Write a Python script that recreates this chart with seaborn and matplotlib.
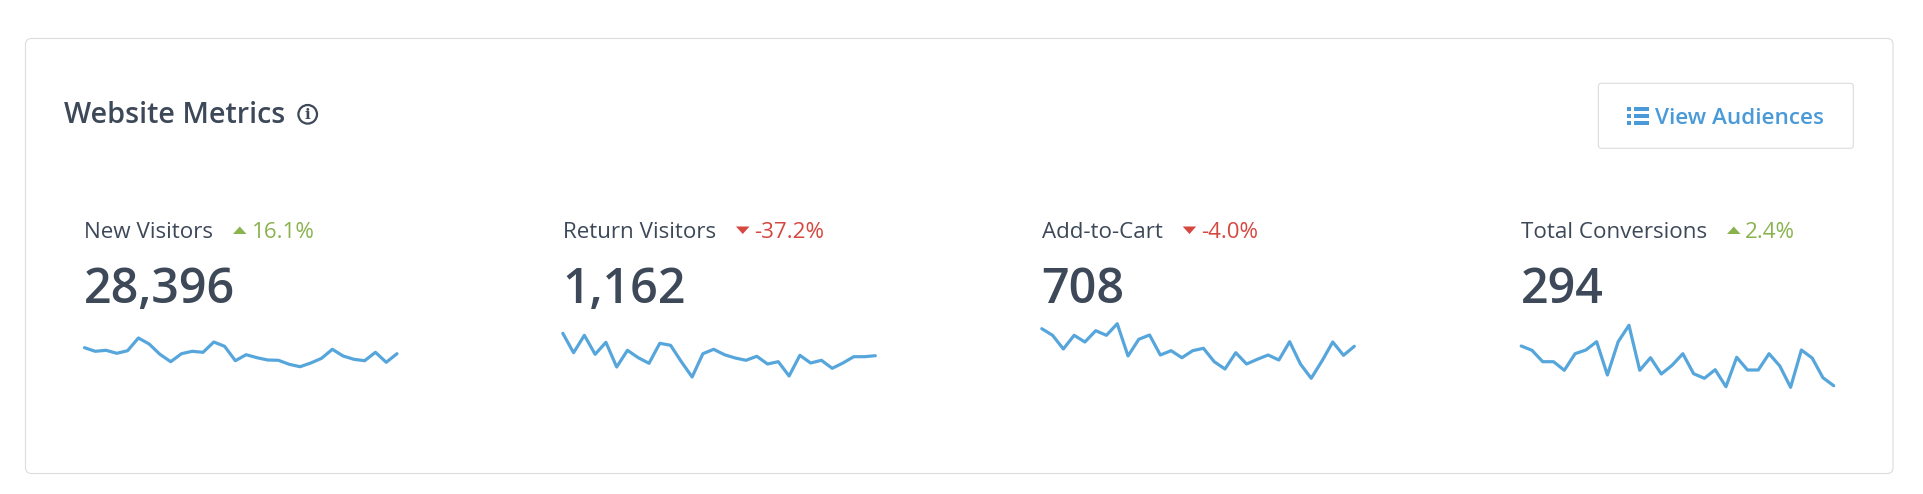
import numpy as np
import pandas as pd
import seaborn as sns
import matplotlib.pyplot as plt
from matplotlib.patches import FancyBboxPatch, Circle, Rectangle, Polygon

W, H = 1924, 494

metrics = ["New Visitors", "Return Visitors", "Add-to-Cart", "Total Conversions"]
totals = ["28,396", "1,162", "708", "294"]
changes = ["16.1%", "-37.2%", "-4.0%", "2.4%"]

new_visitors = [42.3, 38.7, 39.7, 36.7, 39.3, 52, 46, 35.7, 28.3, 36.3, 38.7, 37.7, 48, 43.7, 29.3,
                35.3, 32.3, 30, 29.7, 25.7, 23.3, 27, 31.7, 40.7, 34, 30.7, 29.3, 37.7, 27.7, 36.3]
return_visitors = [56.7, 37.3, 54.7, 35.7, 47.7, 23, 39.7, 32.3, 26.7, 46.7, 44.7, 28.3, 13, 36.3, 40.7,
                   35.3, 32, 29.7, 33.7, 26, 28.3, 14, 34.7, 27, 29.7, 21.7, 27, 33.3, 33.3, 34.3]
add_to_cart = [61.3, 54.7, 41, 54.7, 48, 59.3, 54.7, 66.3, 34, 50.7, 55, 35, 39.3, 32.3, 39.3,
               41.7, 28.3, 21, 37.3, 26, 30.7, 35, 30, 48.3, 26, 11.7, 29, 48, 34.7, 43.7]
conversions = [44, 39.7, 28.3, 28.3, 19.7, 36.3, 40, 48.3, 15, 48.3, 64.7, 19.7, 32.3, 16, 24.7,
               36.3, 16.3, 11.7, 20.3, 3.3, 32.7, 20, 20, 36.3, 24, 2.7, 40, 32, 12.3, 4.3]
series = [new_visitors, return_visitors, add_to_cart, conversions]

DARK = "#3d4858"
GREEN = "#8ab350"
RED = "#d5473f"
LINE = "#56a6dc"
BLUE = "#4a9ad8"
BORDER = "#dcdcdc"

sns.set_style("white")
plt.rcParams["font.family"] = ["Open Sans", "DejaVu Sans"]

fig = plt.figure(figsize=(W / 100, H / 100), dpi=100, facecolor="white")

# overlay in pixel coords for card, button, text
bg = fig.add_axes([0, 0, 1, 1])
bg.set_xlim(0, W)
bg.set_ylim(H, 0)
bg.axis("off")

bg.add_patch(FancyBboxPatch((25.5, 38.5), 1867.5, 435, boxstyle="round,pad=0,rounding_size=6",
                            fc="white", ec=BORDER, lw=0.8))
bg.text(64, 122.7, "Website Metrics", fontsize=20.7, fontweight="semibold", color=DARK)
bg.add_patch(Circle((307.7, 114.3), 9.3, fc="white", ec=DARK, lw=1.6))
bg.text(307.7, 114.6, "i", fontsize=11, fontweight="bold", color=DARK, ha="center", va="center",
        family="DejaVu Serif")

bg.add_patch(FancyBboxPatch((1598.3, 83.3), 255, 65, boxstyle="round,pad=0,rounding_size=3",
                            fc="white", ec=BORDER, lw=0.8))
for top, bottom in [(106.7, 110.7), (114, 117.7), (121.3, 124.9)]:
    bg.add_patch(Rectangle((1627.5, top), 4, bottom - top, fc=BLUE, ec="none"))
    bg.add_patch(Rectangle((1634.5, top), 15, bottom - top, fc=BLUE, ec="none"))
bg.text(1655, 124, "View Audiences", fontsize=16.2, fontweight="semibold", color=BLUE)

left = [85, 563.3, 1042.3, 1521.7]
label_x = [84, 563.2, 1042.2, 1520.7]
arrow_x = [233, 736, 1182.7, 1727]
change_x = [252, 754.5, 1201.5, 1745]

for i, name in enumerate(metrics):
    up = not changes[i].startswith("-")
    col = GREEN if up else RED
    bg.text(label_x[i], 238, name, fontsize=16.1, color=DARK)
    bg.text(change_x[i], 238, changes[i], fontsize=16.1, color=col)
    ax0 = arrow_x[i]
    if up:
        tri = [(ax0, 234), (ax0 + 13.5, 234), (ax0 + 6.75, 226.5)]
    else:
        tri = [(ax0, 226.5), (ax0 + 13.5, 226.5), (ax0 + 6.75, 234)]
    bg.add_patch(Polygon(tri, fc=col, ec="none"))
    bg.text(left[i] - 1, 303.3, totals[i], fontsize=34.8, fontweight="semibold", color=DARK)

    # sparkline, 1 y unit = 1 px
    ax = fig.add_axes([(left[i] - 0.5) / W, (H - 390) / H, 312.5 / W, 100 / H])
    df = pd.DataFrame({"day": np.arange(len(series[i])), "value": series[i]})
    sns.lineplot(data=df, x="day", y="value", color=LINE, lw=2.3, ax=ax)
    ax.set_xlim(0, len(series[i]) - 1)
    ax.set_ylim(0, 100)
    ax.axis("off")
    ax.patch.set_alpha(0)
    for line in ax.get_lines():
        line.set_clip_on(False)

fig.savefig("out.png", dpi=100)
